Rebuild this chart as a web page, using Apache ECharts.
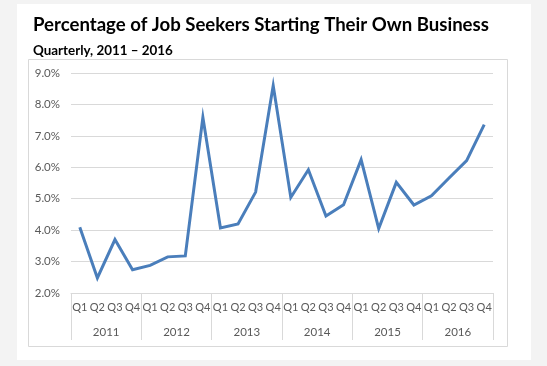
<!DOCTYPE html>
<html>
<head>
<meta charset="utf-8">
<script src="https://cdn.jsdelivr.net/npm/echarts@6/dist/echarts.min.js"></script>
<style>
html,body{margin:0;padding:0;background:#f3f3f3;}
#chart{width:547px;height:366px;}
</style>
</head>
<body>
<div id="chart"></div>
<script>
const titleText = 'Percentage of Job Seekers Starting Their Own Business';
const subtitleText = 'Quarterly, 2011 \u2013 2016';
const quarters = ['Q1','Q2','Q3','Q4','Q1','Q2','Q3','Q4','Q1','Q2','Q3','Q4','Q1','Q2','Q3','Q4','Q1','Q2','Q3','Q4','Q1','Q2','Q3','Q4'];
const years = ['2011','2012','2013','2014','2015','2016'];
const values = [4.09, 2.48, 3.70, 2.74, 2.88, 3.15, 3.18, 7.59, 4.07, 4.20, 5.21, 8.60, 5.04, 5.92, 4.45, 4.81, 6.24, 4.05, 5.52, 4.80, 5.09, 5.66, 6.21, 7.36];
const yMin = 2, yMax = 9, yStep = 1;

const chart = echarts.init(document.getElementById('chart'), null, {renderer:'canvas'});
const font = 'Lato, "Open Sans", sans-serif';
chart.setOption({
  backgroundColor: '#f3f3f3',
  animation: false,
  graphic: [
    {type:'rect', z:-10, shape:{x:17, y:4, width:514, height:356}, style:{fill:'#ffffff'}},
    {type:'rect', z:-9, shape:{x:28.5, y:59.5, width:479, height:287}, style:{fill:'none', stroke:'#d9d9d9', lineWidth:1}}
  ],
  title: [
    {text: titleText, left: 28, top: 10, textStyle:{fontFamily:font, fontWeight:'bold', fontSize:18.6, color:'#000000'}},
    {text: subtitleText, left: 28, top: 39, textStyle:{fontFamily:font, fontWeight:'bold', fontSize:13.4, color:'#000000'}}
  ],
  grid: {left:71, right:54, top:73, bottom:73, containLabel:false},
  xAxis: [
    {type:'category', data: quarters, boundaryGap:true,
     axisLine:{show:true, lineStyle:{color:'#d9d9d9', width:1}},
     axisTick:{show:false},
     axisLabel:{interval:0, margin:9, color:'#595959', fontSize:11, fontFamily:font}},
    {type:'category', data: years, boundaryGap:true, position:'bottom',
     axisLine:{show:false},
     axisTick:{show:true, interval:0, length:47, lineStyle:{color:'#d9d9d9', width:1}},
     axisLabel:{interval:0, margin:33, color:'#595959', fontSize:11.5, fontFamily:font}}
  ],
  yAxis: {type:'value', min:yMin, max:yMax, interval:yStep,
    axisLine:{show:false}, axisTick:{show:false},
    splitLine:{lineStyle:{color:'#d9d9d9', width:1}},
    axisLabel:{margin:11, color:'#595959', fontSize:11.5, fontFamily:font, formatter: v => v.toFixed(1) + '%'}},
  series: [{
    type:'line', xAxisIndex:0, data: values, symbol:'none',
    lineStyle:{color:'#4a7ebb', width:3, join:'miter', cap:'butt'}
  }]
});
</script>
</body>
</html>
